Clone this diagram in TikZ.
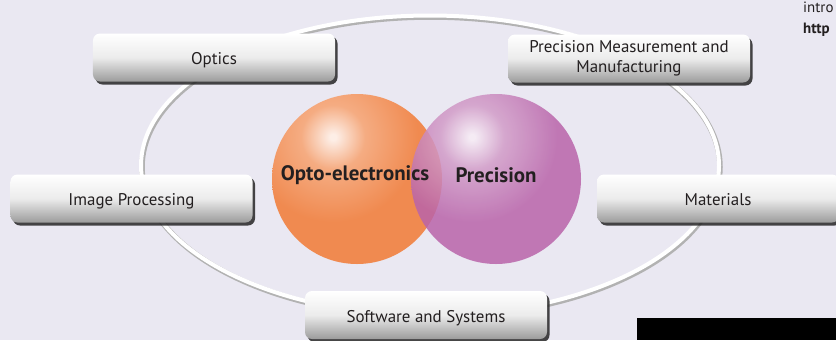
\documentclass[tikz,border=0pt]{standalone}
\usepackage{fontspec}
\setmainfont{PT Sans}
\usetikzlibrary{shadows}
\definecolor{bgc}{RGB}{234,232,242}
\definecolor{txt}{RGB}{35,31,32}
\definecolor{orbase}{RGB}{240,138,80}
\definecolor{ormid}{RGB}{245,172,130}
\definecolor{orlight}{RGB}{253,238,230}
\definecolor{pubase}{RGB}{185,100,170}
\definecolor{pumid}{RGB}{210,156,200}
\definecolor{pulight}{RGB}{247,236,245}
\pgfdeclareradialshading{orball}{\pgfpointorigin}{color(0bp)=(orlight); color(3bp)=(orlight); color(32bp)=(ormid); color(85bp)=(orbase); color(140bp)=(orbase)}
\pgfdeclareradialshading{puball}{\pgfpointorigin}{color(0bp)=(pulight); color(3bp)=(pulight); color(32bp)=(pumid); color(85bp)=(pubase); color(140bp)=(pubase)}
\tikzset{
  areabox/.style={rectangle, rounded corners=7bp, minimum width=242bp, minimum height=48bp,
    top color=white, bottom color=gray!78, middle color=gray!15, shading angle=0,
    drop shadow={shadow xshift=2.5bp, shadow yshift=-3bp, fill=black!85, opacity=0.85},
    text=txt, font=\fontsize{17}{20}\selectfont, align=center, inner sep=2bp},
  onelinebox/.style={areabox, text height=15bp, text depth=1bp},
  balllabel/.style={text=txt, font=\fontsize{21}{24}\selectfont\bfseries},
  shadebox/.style={inner sep=0pt, outer sep=0pt},
}
\begin{document}
\begin{tikzpicture}[x=1bp,y=-1bp]
\fill[bgc] (0,0) rectangle (836,340);
\useasboundingbox (0,0) rectangle (836,340);
\clip (0,0) rectangle (836,340);
% ring
\draw[gray!60, line width=5.5bp] (431,167) ellipse [x radius=289, y radius=150];
\draw[white, line width=4bp] (430,165.5) ellipse [x radius=289, y radius=150];
% balls
\begin{scope}
  \clip (357,179) circle [radius=85];
  \node[shadebox] (orshade) at (333,137) {\pgfuseshading{orball}};
\end{scope}
\begin{scope}[opacity=0.85, transparency group]
  \clip (496,179) circle [radius=85];
  \node[shadebox] (pushade) at (472,137) {\pgfuseshading{puball}};
\end{scope}
\node[balllabel] (opto) at (355,175) {Opto-electronics};
\node[balllabel] (prec) at (496,175) {Precision};
% boxes
\node[onelinebox] (optics) at (214,57.5) {Optics};
\node[areabox] (pmm) at (629,58.5) {Precision Measurement and\\Manufacturing};
\node[onelinebox] (img) at (131.5,198.5) {Image Processing};
\node[onelinebox] (mat) at (718,198.5) {Materials};
\node[onelinebox] (soft) at (426,315) {Software and Systems};
% corner texts
\node[anchor=west, text=txt, font=\fontsize{15}{15}\selectfont, inner sep=0pt] (intro) at (803,7) {intro};
\node[anchor=west, text=txt, font=\fontsize{15}{15}\selectfont\bfseries, inner sep=0pt] (http) at (803,30) {http};
\fill[black] (637,318) rectangle (836,340);
\end{tikzpicture}
\end{document}
